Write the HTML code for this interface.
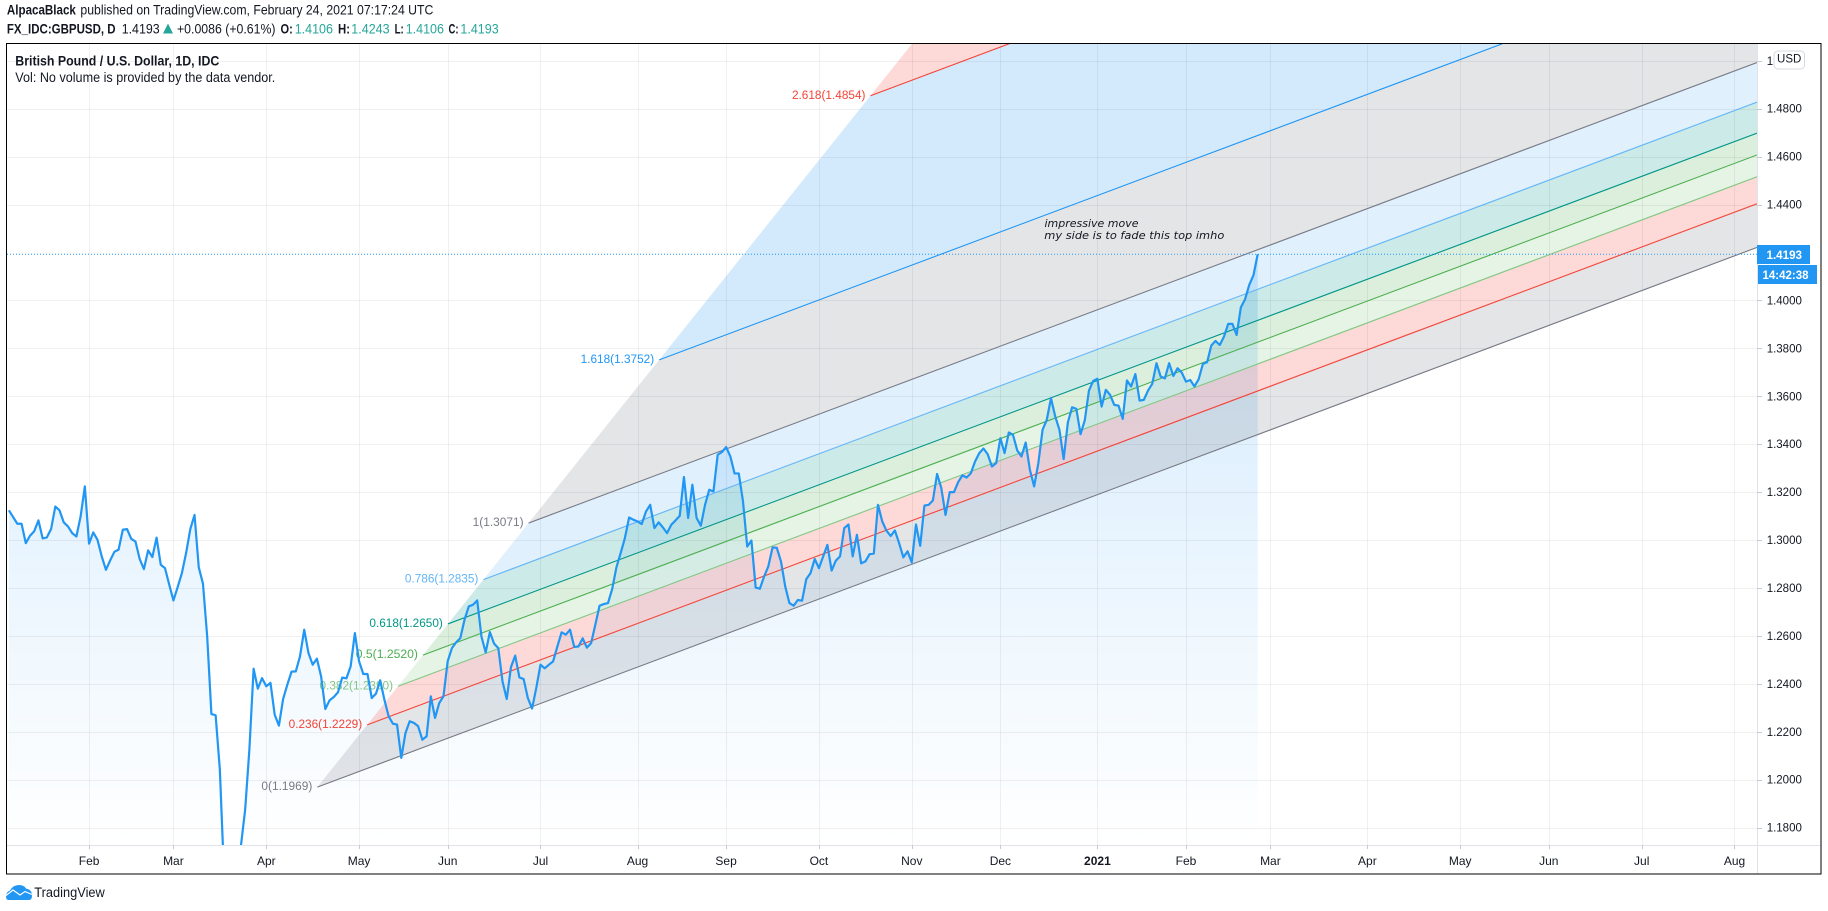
<!DOCTYPE html>
<html lang="en">
<head>
<meta charset="utf-8">
<title>GBPUSD Trend-Based Fib Channel</title>
<style>
html,body{margin:0;padding:0;background:#fff;width:1828px;height:911px;overflow:hidden}
svg{display:block;font-family:"Liberation Sans",Arial,sans-serif}
</style>
</head>
<body>
<svg id="chart" xmlns="http://www.w3.org/2000/svg" width="1828" height="911" viewBox="0 0 1828 911">
  <defs>
    <clipPath id="plotClip"><rect x="7" y="44" width="1750" height="801"/></clipPath>
    <linearGradient id="areaGrad" gradientUnits="userSpaceOnUse" x1="0" y1="254" x2="0" y2="845">
      <stop offset="0" stop-color="#2196f3" stop-opacity="0.2"/>
      <stop offset="1" stop-color="#2196f3" stop-opacity="0"/>
    </linearGradient>
  </defs>

  <g font-size="14" fill="#131722" dominant-baseline="central">
    <text x="6.9" y="9.5" font-weight="bold" textLength="69" lengthAdjust="spacingAndGlyphs">AlpacaBlack</text>
    <text x="80.4" y="9.5" textLength="353" lengthAdjust="spacingAndGlyphs">published on TradingView.com, February 24, 2021 07:17:24 UTC</text>
    <text x="6.9" y="28.5" font-weight="bold" textLength="108.7" lengthAdjust="spacingAndGlyphs">FX_IDC:GBPUSD, D</text>
    <text x="121.7" y="28.5" textLength="38" lengthAdjust="spacingAndGlyphs">1.4193</text>
    <polygon points="163,33.5 168,23.5 173,33.5" fill="#26a69a"/>
    <text x="177" y="28.5" textLength="98.5" lengthAdjust="spacingAndGlyphs">+0.0086 (+0.61%)</text>
    <text x="280.5" y="28.5" font-weight="bold" textLength="12.3" lengthAdjust="spacingAndGlyphs">O:</text>
    <text x="294.7" y="28.5" fill="#26a69a" textLength="38.3" lengthAdjust="spacingAndGlyphs">1.4106</text>
    <text x="338" y="28.5" font-weight="bold" textLength="12" lengthAdjust="spacingAndGlyphs">H:</text>
    <text x="351.3" y="28.5" fill="#26a69a" textLength="38.3" lengthAdjust="spacingAndGlyphs">1.4243</text>
    <text x="394.6" y="28.5" font-weight="bold" textLength="9.2" lengthAdjust="spacingAndGlyphs">L:</text>
    <text x="405.7" y="28.5" fill="#26a69a" textLength="38.3" lengthAdjust="spacingAndGlyphs">1.4106</text>
    <text x="448.5" y="28.5" font-weight="bold" textLength="10" lengthAdjust="spacingAndGlyphs">C:</text>
    <text x="460.4" y="28.5" fill="#26a69a" textLength="38.3" lengthAdjust="spacingAndGlyphs">1.4193</text>
  </g>

  <g id="area" clip-path="url(#plotClip)"></g>
  <g id="fills" clip-path="url(#plotClip)"></g>
  <g id="grid" clip-path="url(#plotClip)"></g>
  <g id="fibLines" clip-path="url(#plotClip)"></g>
  <g id="fibLabels" clip-path="url(#plotClip)" font-size="11.5" dominant-baseline="central"></g>
  <g id="priceLine"></g>
  <g id="series" clip-path="url(#plotClip)"></g>

  <g font-family="'DejaVu Sans',sans-serif" font-style="italic" font-size="11" fill="#131722" dominant-baseline="central">
    <text x="1044.5" y="223.5" textLength="94" lengthAdjust="spacingAndGlyphs">impressive move</text>
    <text x="1044.3" y="235.3" textLength="180" lengthAdjust="spacingAndGlyphs">my side is to fade this top imho</text>
  </g>

  <g font-size="13.5" fill="#131722" dominant-baseline="central">
    <text x="15.3" y="61" font-weight="bold" textLength="204" lengthAdjust="spacingAndGlyphs">British Pound / U.S. Dollar, 1D, IDC</text>
    <text x="15.3" y="77.5" textLength="260" lengthAdjust="spacingAndGlyphs">Vol: No volume is provided by the data vendor.</text>
  </g>

  <g id="axes" font-size="12" fill="#131722">
    <line x1="1757.5" y1="44" x2="1757.5" y2="874" stroke="#e0e3eb"/>
    <line x1="7" y1="845.5" x2="1821" y2="845.5" stroke="#e0e3eb"/>
  </g>

  <g>
    <rect x="1757" y="245" width="53" height="19" fill="#2196f3"/>
    <text x="1766.5" y="254.8" font-size="12" font-weight="bold" fill="#fff" dominant-baseline="central" textLength="35.5" lengthAdjust="spacingAndGlyphs">1.4193</text>
    <rect x="1758" y="265" width="59" height="19" fill="#2196f3"/>
    <text x="1762.5" y="274.8" font-size="12" font-weight="bold" fill="#fff" dominant-baseline="central" textLength="46" lengthAdjust="spacingAndGlyphs">14:42:38</text>
  </g>

  <g>
    <rect x="1774" y="51" width="30.5" height="18" rx="4" fill="#fff" stroke="#d6d8e0"/>
    <text x="1789.2" y="59.5" font-size="11.5" fill="#131722" text-anchor="middle" dominant-baseline="central">USD</text>
  </g>

  <rect x="6.5" y="43.5" width="1814.5" height="830.5" fill="none" stroke="#000" stroke-width="1"/>

  <g>
    <path d="M8.5 900 Q6 900 6 896 Q6 892 10 890.5 Q13 885 19 885 Q24 885 26 888.5 Q32 889.5 32 895.5 Q32 900 29 900 Z" fill="#2196f3"/>
    <polyline points="6,895.5 13,890 20,895 25,891.5 32,894.5" fill="none" stroke="#fff" stroke-width="1.2"/>
    <text x="34.3" y="892.7" font-size="13.5" fill="#131722" dominant-baseline="central" textLength="70.5" lengthAdjust="spacingAndGlyphs">TradingView</text>
  </g>
</svg>

<script>
// ---- data arrays ----
const closes = [
1.3124,1.3096,1.3068,1.3068,1.2987,1.3018,1.3037,1.3082,1.3007,1.3011,1.3046,1.3140,1.3124,1.3074,1.3057,1.3029,1.3015,1.3099,1.3224,1.2985,
1.3032,1.3001,1.2932,1.2876,1.2915,1.2951,1.2960,1.3043,1.3046,1.3005,1.2994,1.2921,1.2879,1.2957,1.2929,1.3010,1.2897,1.2883,1.2814,1.2748,
1.2804,1.2862,1.2946,1.3046,1.3105,1.2886,1.2818,1.2598,1.2274,1.2269,1.2042,1.1600,1.1510,1.1590,1.1500,1.1725,1.1875,1.2126,1.2463,
1.2380,1.2424,1.2390,1.2404,1.2271,1.2226,1.2337,1.2397,1.2451,1.2452,1.2515,1.2626,1.2529,1.2480,1.2505,1.2431,1.2295,1.2331,1.2345,1.2365,
1.2426,1.2423,1.2473,1.2612,1.2494,1.2441,1.2441,1.2341,1.2359,1.2415,1.2334,1.2265,1.2234,1.2230,1.2091,1.2195,1.2244,1.2237,1.2223,1.2167,
1.2181,1.2348,1.2258,1.2320,1.2348,1.2494,1.2549,1.2573,1.2591,1.2668,1.2723,1.2730,1.2748,1.2598,1.2531,1.2616,1.2568,1.2549,
1.2410,1.2337,1.2470,1.2518,1.2427,1.2420,1.2341,1.2297,1.2383,1.2480,1.2465,1.2480,1.2494,1.2556,1.2615,1.2605,1.2626,1.2554,1.2556,1.2590,
1.2551,1.2570,1.2647,1.2726,1.2733,1.2737,1.2796,1.2887,
1.2946,1.3008,1.3094,1.3085,1.3078,1.3067,1.3119,1.3147,1.3050,1.3074,1.3053,1.3029,1.3064,1.3082,1.3101,1.3263,1.3092,1.3231,1.3092,1.3060,
1.3147,1.3210,1.3203,1.3356,
1.3367,1.3388,1.3349,1.3278,1.3278,1.3161,1.2973,1.2998,1.2802,1.2797,1.2848,1.2890,1.2969,1.2968,1.2911,1.2807,1.2737,1.2726,1.2750,1.2747,
1.2837,1.2862,1.2921,1.2883,1.2932,1.2980,1.2873,1.2914,1.2932,1.3050,1.3065,1.2932,1.3022,1.2903,1.2911,1.2941,1.2944,1.3147,1.3078,1.3039,
1.3017,1.3040,1.2987,1.2928,1.2953,1.2907,1.3065,1.2976,1.3144,1.3147,1.3165,1.3276,1.3217,1.3105,1.3200,1.3200,1.3242,1.3270,1.3261,1.3279,
1.3328,1.3363,1.3382,1.3358,1.3307,1.3321,1.3425,1.3363,1.3449,1.3439,1.3374,1.3349,1.3407,1.3293,1.3224,
1.3321,1.3460,1.3502,1.3592,1.3516,1.3460,1.3338,1.3491,1.3554,1.3548,1.3442,1.3499,1.3624,1.3664,1.3673,1.3557,1.3627,1.3606,1.3564,1.3561,
1.3506,1.3666,1.3641,1.3693,1.3582,1.3585,1.3624,1.3652,
1.3738,1.3682,1.3675,1.3738,1.3685,1.3717,1.3699,1.3661,1.3668,1.3641,1.3671,1.3735,1.3742,1.3812,1.3831,1.3814,1.3849,1.3902,1.3902,1.3856,
1.3971,1.4005,1.4065,1.4106,1.4193
];
const lastPrice = 1.4193;
const priceTicks = [1.50,1.48,1.46,1.44,1.40,1.38,1.36,1.34,1.32,1.30,1.28,1.26,1.24,1.22,1.20,1.18];
const timeLabels = ["Feb","Mar","Apr","May","Jun","Jul","Aug","Sep","Oct","Nov","Dec","2021","Feb","Mar","Apr","May","Jun","Jul","Aug"];
const timeBars = [19,39,61,83,104,126,149,170,192,214,235,258,279,299,322,344,365,387,409];
const fibLevels = [0,0.236,0.382,0.5,0.618,0.786,1,1.618,2.618,3.618];
const fibPrices = [1.1969,1.2229,1.2390,1.2520,1.2650,1.2835,1.3071,1.3752,1.4854,1.5956];
const fibAnchorBar = 73.1;
const fibBarsPerLevel = 50.08;
const fibSlopePerBar = 0.00066;

// ---- styles (not data) ----
const fibColors = ["#787b86","#f44336","#81c784","#4caf50","#009688","#64b5f6","#787b86","#2196f3","#f44336","#2196f3"];
const SVGNS = "http://www.w3.org/2000/svg";
const plotRight = 1757, plotBottom = 845;

// ---- axis functions ----
function xScale(bar){ return 8.9 + 4.219 * bar; }
function xInvert(px){ return (px - 8.9) / 4.219; }
function yScale(price){ return 108.7 + (1.48 - price) * 2396.5; }

function make(tag, parent, attrs){
  const node = document.createElementNS(SVGNS, tag);
  for (const k in attrs) node.setAttribute(k, attrs[k]);
  parent.appendChild(node);
  return node;
}
const gArea = document.getElementById('area');
const gFills = document.getElementById('fills');
const gGrid = document.getElementById('grid');
const gFibLines = document.getElementById('fibLines');
const gFibLabels = document.getElementById('fibLabels');
const gPriceLine = document.getElementById('priceLine');
const gSeries = document.getElementById('series');
const gAxes = document.getElementById('axes');

// area + line
const linePts = closes.map((c,i)=>xScale(i).toFixed(2)+','+yScale(c).toFixed(2));
const areaEl = make('path', gArea, {
  d:'M'+xScale(0).toFixed(2)+' '+plotBottom+' L'+linePts.join(' L')+' L'+xScale(closes.length-1).toFixed(2)+' '+plotBottom+' Z',
  fill:'url(#areaGrad)'
});



// fib channel
function fibStartBar(level){ return fibAnchorBar + level * fibBarsPerLevel; }
function fibPriceAt(idx, bar){ return fibPrices[idx] + (bar - fibStartBar(fibLevels[idx])) * fibSlopePerBar; }
const endBar = xInvert(plotRight);
for (let i = 0; i < fibLevels.length - 1; i++){
  const a = fibStartBar(fibLevels[i]), b = fibStartBar(fibLevels[i+1]);
  const pts = [
    [xScale(a), yScale(fibPriceAt(i,a))],
    [plotRight, yScale(fibPriceAt(i,endBar))],
    [plotRight, yScale(fibPriceAt(i+1,endBar))],
    [xScale(b), yScale(fibPriceAt(i+1,b))]
  ].map(p=>p[0].toFixed(2)+','+p[1].toFixed(2)).join(' ');
  const band = make('polygon', gFills, {points:pts, fill:fibColors[i], 'fill-opacity':0.2});
  
  
}

// grid
priceTicks.forEach(p=>{
  const y = Math.round(yScale(p)) + 0.5;
  const g = make('line', gGrid, {x1:7,x2:plotRight,y1:y,y2:y,stroke:'#2a2e39','stroke-opacity':0.07});
  
  
});
timeBars.forEach(b=>{
  const x = Math.round(xScale(b)) + 0.5;
  const g = make('line', gGrid, {x1:x,x2:x,y1:44,y2:plotBottom,stroke:'#2a2e39','stroke-opacity':0.07});
  
  
});

// fib lines + labels
for (let i = 0; i < fibLevels.length - 1; i++){
  const a = fibStartBar(fibLevels[i]);
  const ln = make('line', gFibLines, {
    x1:xScale(a).toFixed(2), y1:yScale(fibPriceAt(i,a)).toFixed(2),
    x2:plotRight, y2:yScale(fibPriceAt(i,endBar)).toFixed(2),
    stroke:fibColors[i], 'stroke-width':1.1
  });
  
  
  const txt = fibLevels[i] + '(' + fibPrices[i].toFixed(4) + ')';
  const lb = make('text', gFibLabels, {
    x:(xScale(a)-5).toFixed(2), y:yScale(fibPrices[i]).toFixed(2),
    fill:fibColors[i], 'text-anchor':'end',
    textLength:(txt.length*5.65).toFixed(1), lengthAdjust:'spacingAndGlyphs'
  });
  lb.textContent = txt;
  
  
}

// last-price dotted line
const lpl = make('line', gPriceLine, {
  x1:7, x2:plotRight, y1:yScale(lastPrice).toFixed(1), y2:yScale(lastPrice).toFixed(1),
  stroke:'#2196f3', 'stroke-width':1, 'stroke-dasharray':'1 2'
});



// series line
const lineEl = make('polyline', gSeries, {
  points:linePts.join(' '), fill:'none', stroke:'#2196f3', 'stroke-width':2.2, 'stroke-linejoin':'round'
});



// price axis
priceTicks.forEach(p=>{
  const y = yScale(p);
  const tick = make('line', gAxes, {x1:1757,x2:1762,y1:Math.round(y)+0.5,y2:Math.round(y)+0.5,stroke:'#c8cad2'});
  
  
  const t = make('text', gAxes, {x:1766.7,y:y.toFixed(1),'dominant-baseline':'central',textLength:35.2,lengthAdjust:'spacingAndGlyphs'});
  t.textContent = p.toFixed(4);
  
  
});

// time axis
timeBars.forEach((b,i)=>{
  const x = xScale(b);
  const tick = make('line', gAxes, {x1:Math.round(x)+0.5,x2:Math.round(x)+0.5,y1:845,y2:849,stroke:'#c8cad2'});
  
  
  const t = make('text', gAxes, {x:x.toFixed(1),y:861,'text-anchor':'middle','dominant-baseline':'central','font-weight':timeLabels[i]==='2021'?'bold':'normal'});
  t.textContent = timeLabels[i];
  
  
});
</script>
</body>
</html>
